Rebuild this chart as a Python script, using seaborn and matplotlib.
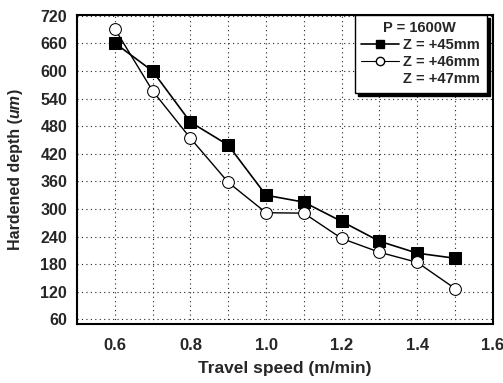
import matplotlib
matplotlib.use("Agg")
import matplotlib.pyplot as plt
import seaborn as sns
import pandas as pd
from matplotlib.lines import Line2D
from matplotlib.offsetbox import TextArea, VPacker, AnchoredOffsetbox

speed = [0.6, 0.7, 0.8, 0.9, 1.0, 1.1, 1.2, 1.3, 1.4, 1.5]
depth_z45 = [661, 600, 489, 439, 330, 315, 273, 230, 204, 193]
depth_z46 = [692, 557, 454, 358, 292, 291, 236, 206, 184, 127]
series_labels = ["Z = +45mm", "Z = +46mm", "Z = +47mm"]
legend_title = "P = 1600W"
x_ticks = [0.6, 0.8, 1.0, 1.2, 1.4, 1.6]
y_ticks = [60, 120, 180, 240, 300, 360, 420, 480, 540, 600, 660, 720]

sns.set_style("white")
plt.rcParams["font.family"] = ["Liberation Sans", "DejaVu Sans"]

df = pd.concat([
    pd.DataFrame({"speed": speed, "depth": depth_z45, "Z": series_labels[0]}),
    pd.DataFrame({"speed": speed, "depth": depth_z46, "Z": series_labels[1]}),
])

fig = plt.figure(figsize=(5.03, 3.83), dpi=100)
ax = fig.add_axes([0.153, 0.154, 0.827, 0.807])

sns.lineplot(data=df[df.Z == series_labels[0]], x="speed", y="depth", ax=ax,
             color="black", lw=1.2, marker="s", markersize=8,
             markerfacecolor="black", markeredgecolor="black", legend=False, zorder=3)
sns.lineplot(data=df[df.Z == series_labels[1]], x="speed", y="depth", ax=ax,
             color="black", lw=1.0, marker="o", markersize=8.5,
             markerfacecolor="white", markeredgecolor="black", legend=False, zorder=4)

ax.set_xlim(0.5, 1.6)
ax.set_ylim(50, 722)
ax.set_xticks(x_ticks)
ax.set_xticklabels([f"{t:.1f}" for t in x_ticks], fontweight="bold", fontsize=12)
ax.set_yticks(y_ticks)
ax.set_yticklabels([str(t) for t in y_ticks], fontweight="bold", fontsize=11.5)
ax.set_xticks([0.5 + 0.1 * i for i in range(11)], minor=True)
ax.grid(True, which="both", axis="x", linestyle=(0, (1, 3)), color="#222222", lw=0.8)
ax.grid(True, which="major", axis="y", linestyle=(0, (1, 3)), color="#222222", lw=0.8)
ax.tick_params(axis="x", which="both", length=0, pad=10)
ax.tick_params(axis="y", which="both", length=0, pad=7)
for s in ax.spines.values():
    s.set_color("black")
    s.set_linewidth(1.5)

ax.set_xlabel("Travel speed (m/min)", fontweight="bold", fontsize=12.5, labelpad=6)
ax.set_ylabel("")
tp = dict(fontweight="bold", fontsize=11.5, rotation=90)
t1 = TextArea("Hardened depth (", textprops=tp)
t2 = TextArea("um", textprops=dict(tp, fontstyle="italic"))
t3 = TextArea(")", textprops=tp)
box = VPacker(children=[t3, t2, t1], align="center", pad=0, sep=0)
ab = AnchoredOffsetbox(loc="center", child=box, pad=0, frameon=False,
                       bbox_to_anchor=(0.03, 0.57), bbox_transform=fig.transFigure, borderpad=0)
fig.add_artist(ab)

handles = [
    Line2D([], [], color="none"),
    Line2D([], [], color="black", lw=1.2, marker="s", markersize=6, markerfacecolor="black"),
    Line2D([], [], color="black", lw=0.8, marker="o", markersize=6, markerfacecolor="white"),
    Line2D([], [], color="none"),
]
labels = [legend_title] + series_labels
leg = ax.legend(handles, labels, loc="upper right", bbox_to_anchor=(0.985, 1.0),
                frameon=True, fancybox=False, shadow={"color": "black", "alpha": 1, "ox": 2.5, "oy": -2.5},
                prop=dict(weight="bold", size=10.5), handlelength=2.6,
                handletextpad=0.3, labelspacing=0.2, borderpad=0.45, borderaxespad=0)
leg.get_frame().set_edgecolor("black")
leg.get_frame().set_linewidth(1.0)
leg.get_texts()[0].set_position((-20, 0))

fig.savefig("out.png", dpi=100)
